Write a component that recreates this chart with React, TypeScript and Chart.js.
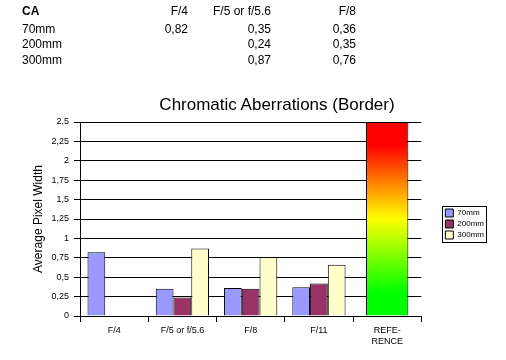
import React, { useEffect, useRef } from "react";
import { Chart, registerables } from "chart.js";

Chart.register(...registerables);

// ---- data ----
const CATEGORIES: (string | string[])[] = ["F/4", "F/5 or f/5.6", "F/8", "F/11", ["REFE-", "RENCE"]];
const SERIES_NAMES = ["70mm", "200mm", "300mm"];
const VALUES_70: (number | null)[] = [0.82, 0.35, 0.36, 0.37, null];
const VALUES_200: (number | null)[] = [null, 0.24, 0.35, 0.42, null];
const VALUES_300: (number | null)[] = [null, 0.87, 0.76, 0.66, null];
const REFERENCE: (number | null)[] = [null, null, null, null, 2.5];
const SERIES_COLORS = ["#9999FF", "#993366", "#FFFFCC"];
const TABLE_COLUMNS = ["F/4", "F/5 or f/5.6", "F/8"];
const TITLE = "Chromatic Aberrations (Border)";
const Y_TITLE = "Average Pixel Width";
const Y_MIN = 0;
const Y_MAX = 2.5;
const Y_STEP = 0.25;

const FONT = 'Arial, "Liberation Sans", sans-serif';

const fmt = (v: number | null) => (v == null ? "" : v.toFixed(2).replace(".", ","));
const tickFmt = (v: number) => String(Math.round(v * 100) / 100).replace(".", ",");

const legendBorder = {
  id: "legendBorder",
  afterDraw(chart: any) {
    const lg = chart.legend;
    if (!lg || !lg.legendHitBoxes || !lg.legendHitBoxes.length) return;
    const hb = lg.legendHitBoxes;
    let l = Infinity, t = Infinity, r = -Infinity, b = -Infinity;
    hb.forEach((h: any) => {
      l = Math.min(l, h.left);
      t = Math.min(t, h.top);
      r = Math.max(r, h.left + h.width);
      b = Math.max(b, h.top + h.height);
    });
    const c = chart.ctx;
    c.save();
    c.strokeStyle = "#000";
    c.lineWidth = 1;
    c.strokeRect(Math.round(l - 3) + 0.5, Math.round(t - 3) + 0.5, Math.round(r - l + 5), Math.round(b - t + 6));
    c.restore();
  },
};

export default function App() {
  const ref = useRef<HTMLCanvasElement | null>(null);

  useEffect(() => {
    if (!ref.current) return;
    Chart.defaults.font.family = FONT;
    Chart.defaults.color = "#000";
    const series = [VALUES_70, VALUES_200, VALUES_300];
    const chart = new Chart(ref.current, {
      type: "bar",
      data: {
        labels: CATEGORIES,
        datasets: [
          ...series.map((vals, i) => ({
            label: SERIES_NAMES[i],
            data: vals,
            backgroundColor: SERIES_COLORS[i],
            borderColor: "#000",
            borderWidth: 1,
            barPercentage: 1,
            categoryPercentage: 0.78,
          })),
          {
            label: "REFERENCE",
            data: REFERENCE,
            grouped: false,
            barPercentage: 0.62,
            categoryPercentage: 1,
            borderColor: "#000",
            borderWidth: 1,
            backgroundColor: (ctx: any) => {
              const area = ctx.chart.chartArea;
              if (!area) return "#ffff00";
              const g = ctx.chart.ctx.createLinearGradient(0, area.bottom, 0, area.top);
              g.addColorStop(0, "#00ff00");
              g.addColorStop(0.12, "#00ff00");
              g.addColorStop(0.5, "#ffff00");
              g.addColorStop(0.88, "#ff0000");
              g.addColorStop(1, "#ff0000");
              return g;
            },
          } as any,
        ],
      },
      options: {
        animation: false,
        responsive: false,
        devicePixelRatio: 1,
        layout: { padding: { top: 122, left: 0, right: 12, bottom: 0 } },
        plugins: {
          title: { display: false },
          tooltip: { enabled: false },
          legend: {
            position: "right",
            align: "start",
            title: { display: true, text: "", font: { size: 10, lineHeight: 1 }, padding: { top: 74, bottom: 0 } },
            labels: {
              boxWidth: 8,
              boxHeight: 8,
              padding: 3,
              font: { size: 8, family: FONT, lineHeight: 1.125 },
              color: "#000",
              filter: (item: any) => item.datasetIndex < SERIES_NAMES.length,
            },
          },
        },
        scales: {
          x: {
            grid: {
              drawOnChartArea: false,
              drawTicks: true,
              tickLength: 6,
              offset: true,
              color: (c: any) => (c.index >= CATEGORIES.length ? "rgba(0,0,0,0)" : "#000"),
            },
            border: { display: true, color: "#000" },
            ticks: {
              autoSkip: false,
              maxRotation: 0,
              minRotation: 0,
              padding: 3,
              font: { size: 9, family: FONT, lineHeight: 1.2 },
              color: "#000",
            },
            afterFit: (s: any) => {
              s.height = 44;
            },
          },
          y: {
            min: Y_MIN,
            max: Y_MAX,
            ticks: {
              stepSize: Y_STEP,
              padding: 5,
              font: { size: 9, family: FONT },
              color: "#000",
              callback: (v: any) => tickFmt(Number(v)),
            },
            grid: { color: "#000", tickLength: 6, drawTicks: true },
            border: { display: true, color: "#000" },
            title: {
              display: true,
              text: Y_TITLE,
              font: { size: 12, family: FONT },
              color: "#000",
              padding: { top: 31, bottom: 0 },
            },
            afterFit: (s: any) => {
              s.width = 80;
            },
          },
          spacer: {
            type: "linear",
            position: "right",
            display: true,
            grid: { display: false },
            border: { display: false },
            ticks: { display: false },
            afterFit: (s: any) => {
              s.width = 21;
            },
          },
        },
      } as any,
      plugins: [legendBorder],
    });
    return () => chart.destroy();
  }, []);

  const rows = [
    { name: SERIES_NAMES[0], vals: VALUES_70 },
    { name: SERIES_NAMES[1], vals: VALUES_200 },
    { name: SERIES_NAMES[2], vals: VALUES_300 },
  ];
  const colRight = [188, 271, 356];
  const rowTop = [5, 23, 38, 54];
  const cell = (text: string, right: number, top: number, bold = false, key?: string) => (
    <div
      key={key}
      style={{
        position: "absolute",
        left: right - 120,
        width: 120,
        top,
        textAlign: "right",
        fontSize: 12,
        lineHeight: "12px",
        fontFamily: FONT,
        fontWeight: bold ? "bold" : "normal",
        whiteSpace: "nowrap",
      }}
    >
      {text}
    </div>
  );
  const leftCell = (text: string, top: number, bold = false, key?: string) => (
    <div
      key={key}
      style={{
        position: "absolute",
        left: 22,
        top,
        fontSize: 12,
        lineHeight: "12px",
        fontFamily: FONT,
        fontWeight: bold ? "bold" : "normal",
        whiteSpace: "nowrap",
      }}
    >
      {text}
    </div>
  );

  return (
    <div style={{ position: "absolute", left: 0, top: 0, width: 506, height: 360, background: "#fff", color: "#000" }}>
      <canvas ref={ref} width={506} height={360} style={{ position: "absolute", left: 0, top: 0, width: 506, height: 360 }} />
      {leftCell("CA", rowTop[0], true, "ca")}
      {TABLE_COLUMNS.map((c, i) => cell(c, colRight[i], rowTop[0], false, "h" + i))}
      {rows.map((r, ri) => (
        <React.Fragment key={"r" + ri}>
          {leftCell(r.name, rowTop[ri + 1])}
          {TABLE_COLUMNS.map((_, ci) => cell(fmt(r.vals[ci]), colRight[ci], rowTop[ri + 1], false, "c" + ri + ci))}
        </React.Fragment>
      ))}
      <div
        style={{
          position: "absolute",
          left: 277 - 200,
          width: 400,
          top: 96,
          textAlign: "center",
          fontSize: 17,
          lineHeight: "17px",
          fontFamily: FONT,
          whiteSpace: "nowrap",
        }}
      >
        {TITLE}
      </div>
    </div>
  );
}
